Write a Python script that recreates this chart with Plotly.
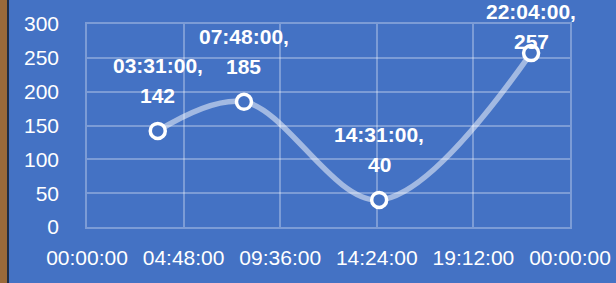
import plotly.graph_objects as go

times = ["03:31:00", "07:48:00", "14:31:00", "22:04:00"]
values = [142, 185, 40, 257]
x_ticks = ["00:00:00", "04:48:00", "09:36:00", "14:24:00", "19:12:00", "00:00:00"]
y_ticks = [0, 50, 100, 150, 200, 250, 300]

DAY = "2024-01-01 "
xs = [DAY + t for t in times]

BG = "#4472C4"
FONT = "Liberation Sans"

fig = go.Figure()
fig.add_trace(go.Scatter(
    x=xs, y=values, mode="lines+markers",
    line=dict(shape="spline", smoothing=1.0, color="rgba(255,255,255,0.5)", width=5.5),
    marker=dict(size=15, color=BG, line=dict(color="white", width=3.5)),
    hoverinfo="skip",
))

# data labels (two lines each), last one pushed down like the original
line2_shift = [22, 22, 22, -2]
for x, t, v, s in zip(xs, times, values, line2_shift):
    fig.add_annotation(x=x, y=v, text="<b>%s</b>" % v, showarrow=False,
                       yanchor="bottom", yshift=s,
                       font=dict(family=FONT, size=21, color="white"))
    fig.add_annotation(x=x, y=v, text="<b>%s,</b>" % t, showarrow=False,
                       yanchor="bottom", yshift=s + 30,
                       font=dict(family=FONT, size=21, color="white"))

# left edge strip from the screenshot
pw = 616 - 87 - 46
fig.add_shape(type="rect", xref="paper", yref="paper", x0=-87 / pw, x1=-80 / pw,
              y0=-1, y1=2, fillcolor="#9a6a3a", line_width=0, layer="above")
fig.add_shape(type="rect", xref="paper", yref="paper", x0=-80 / pw, x1=-78 / pw,
              y0=-1, y1=2, fillcolor="#1f2d45", line_width=0, layer="above")

fig.update_layout(
    width=616, height=283,
    margin=dict(l=87, r=46, t=24, b=56, autoexpand=False),
    paper_bgcolor=BG, plot_bgcolor=BG,
    showlegend=False,
    font=dict(family=FONT, size=21, color="white"),
    xaxis=dict(
        type="date", automargin=False,
        range=[DAY + "00:00:00", "2024-01-02 00:00:00"],
        tickvals=[DAY + "00:00:00", DAY + "04:48:00", DAY + "09:36:00", DAY + "14:24:00", DAY + "19:12:00", "2024-01-02 00:00:00"],
        ticktext=x_ticks,
        showgrid=True, gridcolor="rgba(255,255,255,0.3)", gridwidth=1.5,
        showline=True, linecolor="rgba(255,255,255,0.3)", linewidth=1.5, mirror=True,
        zeroline=False, ticks="", ticklabelstandoff=11,
        tickfont=dict(family=FONT, size=21, color="white"),
    ),
    yaxis=dict(
        range=[0, 300], tickvals=y_ticks, automargin=False,
        showgrid=True, gridcolor="rgba(255,255,255,0.3)", gridwidth=1.5,
        showline=True, linecolor="rgba(255,255,255,0.3)", linewidth=1.5, mirror=True,
        zeroline=False, ticks="", ticklabelstandoff=22,
        tickfont=dict(family=FONT, size=21, color="white"),
    ),
)

fig.write_html("out.html", config={"displayModeBar": False},
               post_script="document.body.style.margin='0';document.body.style.overflow='hidden';")
